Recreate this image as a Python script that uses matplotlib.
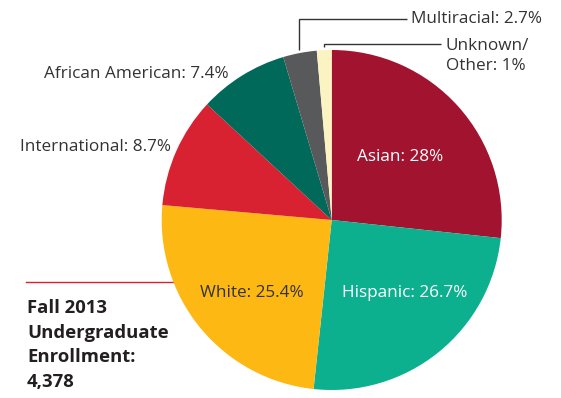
import matplotlib.pyplot as plt
import numpy as np

plt.rcParams['font.family'] = ['Open Sans', 'DejaVu Sans']

groups = ['Asian', 'Hispanic', 'White', 'International', 'African American',
          'Multiracial', 'Unknown/\nOther']
pct_labels = ['28%', '26.7%', '25.4%', '8.7%', '7.4%', '2.7%', '1%']
# slice sizes as they are drawn in the original (not exactly the printed numbers)
shares = [26.7, 25.0, 24.7, 10.5, 8.5, 3.2, 1.4]
colors = ['#a1132f', '#0cb08e', '#fdb813', '#d92231', '#00695a', '#58595b', '#fcf3c3']
title = 'Fall 2013\nUndergraduate\nEnrollment:\n4,378'

W, H = 561, 398
txt = '#333333'
fs = 12.3

fig = plt.figure(figsize=(W / 100, H / 100), dpi=100)
ax = fig.add_axes([0, 0, 1, 1])

def Y(y):
    # pixel rows from the top -> data y
    return H - y

cx, cy, r = 331.7, Y(220), 170
wedges, _ = ax.pie(shares, colors=colors, startangle=90, counterclock=False,
                   center=(cx, cy), radius=r,
                   wedgeprops=dict(linewidth=0, antialiased=True))
ax.set_xlim(0, W)
ax.set_ylim(0, H)
ax.set_aspect('equal')
ax.axis('off')

# labels inside the big slices
ax.text(400, Y(157), f'{groups[0]}: {pct_labels[0]}', color='white', fontsize=fs,
        ha='center', va='center')
ax.text(405, Y(293), f'{groups[1]}: {pct_labels[1]}', color='white', fontsize=fs,
        ha='center', va='center')
ax.text(252, Y(293), f'{groups[2]}: {pct_labels[2]}', color=txt, fontsize=fs,
        ha='center', va='center')

# labels outside
ax.text(171, Y(147), f'{groups[3]}: {pct_labels[3]}', color=txt, fontsize=fs,
        ha='right', va='center')
ax.text(229, Y(74), f'{groups[4]}: {pct_labels[4]}', color=txt, fontsize=fs,
        ha='right', va='center')

# leader lines for the two thin slices
for i, ytop, xend in [(5, 19, 407), (6, 44, 441)]:
    w = wedges[i]
    a = np.radians((w.theta1 + w.theta2) / 2)
    x0 = cx + (r + 3) * np.cos(a)
    y0 = cy + (r + 3) * np.sin(a)
    ax.plot([x0, x0, xend], [y0, Y(ytop), Y(ytop)], color=txt, lw=1,
            solid_capstyle='butt', solid_joinstyle='miter')
ax.text(411, Y(19), f'{groups[5]}: {pct_labels[5]}', color=txt, fontsize=fs,
        ha='left', va='center')
ax.text(446, Y(56), f'{groups[6]}: {pct_labels[6]}', color=txt, fontsize=fs,
        ha='left', va='center', linespacing=1.25)

# red rule and title block
ax.plot([26, cx], [Y(282), Y(282)], color='#d92231', lw=1, zorder=0)
ax.text(27, Y(299), title, color='#231f20', fontsize=13.3, fontweight='bold',
        ha='left', va='top', linespacing=1.48)

fig.savefig('out.png', dpi=100)
